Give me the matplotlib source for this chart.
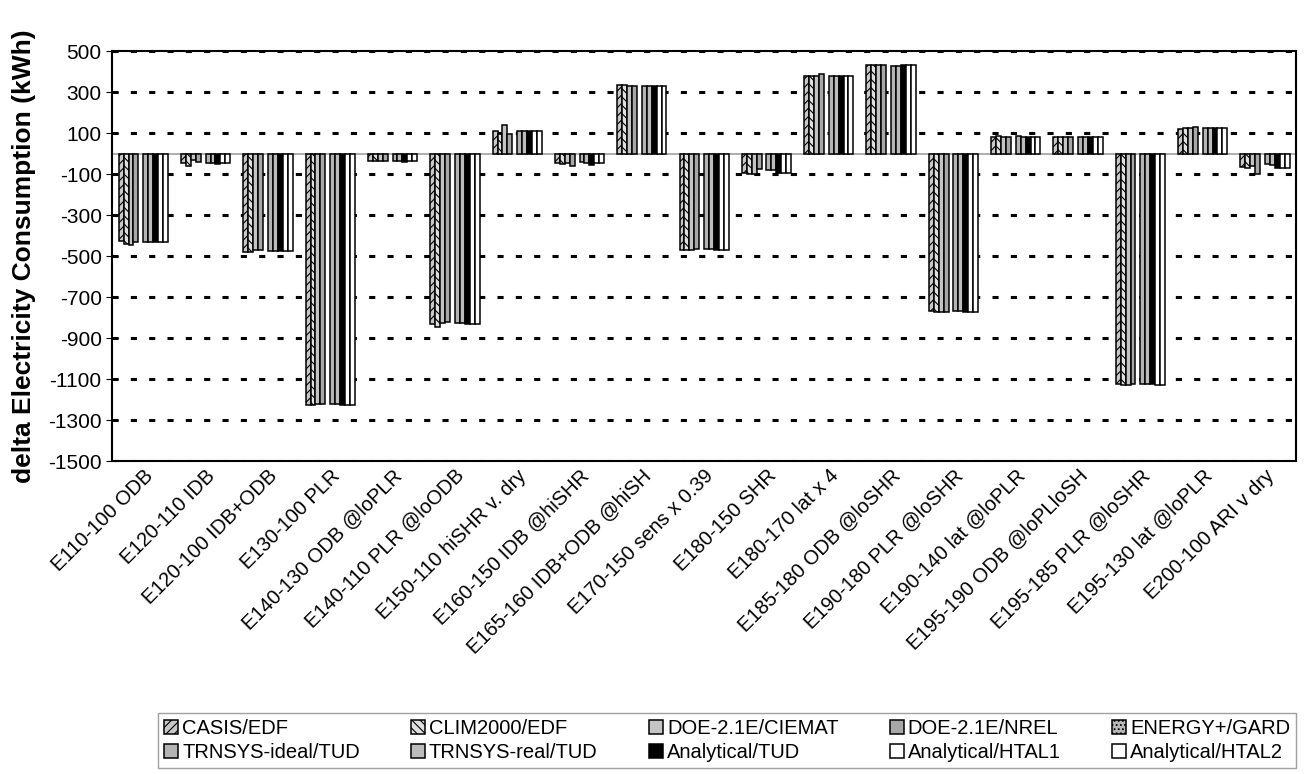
import matplotlib
matplotlib.use("Agg")
import matplotlib.pyplot as plt
import numpy as np

plt.rcParams['font.family'] = ['Liberation Sans', 'DejaVu Sans']
plt.rcParams['hatch.linewidth'] = 0.8
plt.rcParams['axes.unicode_minus'] = False

# Test case comparisons
cases = ["E110-100 ODB", "E120-110 IDB", "E120-100 IDB+ODB", "E130-100 PLR",
         "E140-130 ODB @loPLR", "E140-110 PLR @loODB", "E150-110 hiSHR v. dry",
         "E160-150 IDB @hiSHR", "E165-160 IDB+ODB @hiSH", "E170-150 sens x 0.39",
         "E180-150 SHR", "E180-170 lat x 4", "E185-180 ODB @loSHR",
         "E190-180 PLR @loSHR", "E190-140 lat @loPLR", "E195-190 ODB @loPLloSH",
         "E195-185 PLR @loSHR", "E195-130 lat @loPLR", "E200-100 ARI v dry"]

# delta electricity consumption (kWh) per program
casis = [-425, -45, -480, -1225, -38, -830, 110, -45, 335, -470, -95, 378, 432, -765, 82, 80, -1125, 120, -65]
clim2000 = [-440, -60, -480, -1225, -38, -845, 98, -50, 333, -470, -100, 378, 432, -770, 85, 80, -1130, 123, -70]
doe_ciemat = [-445, -30, -470, -1220, -38, -825, 142, -45, 330, -468, -100, 378, 430, -770, 82, 80, -1128, 125, -62]
doe_nrel = [-430, -40, -470, -1220, -38, -820, 98, -58, 330, -465, -75, 390, 430, -770, 82, 80, -1125, 128, -97]
energyplus = [np.nan] * 19
trnsys_ideal = [-430, -45, -475, -1220, -38, -825, 112, -40, 332, -465, -80, 378, 428, -765, 85, 80, -1122, 123, -50]
trnsys_real = [-430, -45, -475, -1220, -38, -825, 112, -45, 330, -465, -80, 378, 428, -765, 82, 80, -1122, 123, -55]
analytical_tud = [-432, -50, -475, -1225, -40, -830, 112, -55, 328, -470, -95, 378, 432, -770, 82, 80, -1125, 123, -72]
htal1 = [-432, -45, -475, -1225, -38, -830, 112, -45, 330, -470, -95, 378, 432, -770, 82, 80, -1128, 123, -68]
htal2 = [-432, -45, -475, -1225, -38, -830, 112, -45, 330, -470, -95, 378, 432, -770, 82, 80, -1128, 123, -68]

names = ["CASIS/EDF", "CLIM2000/EDF", "DOE-2.1E/CIEMAT", "DOE-2.1E/NREL", "ENERGY+/GARD",
         "TRNSYS-ideal/TUD", "TRNSYS-real/TUD", "Analytical/TUD", "Analytical/HTAL1", "Analytical/HTAL2"]
series = [casis, clim2000, doe_ciemat, doe_nrel, energyplus,
          trnsys_ideal, trnsys_real, analytical_tud, htal1, htal2]
faces = ["#c8c8c8", "#e0e0e0", "#c4c4c4", "#a8a8a8", "#b8b8b8",
         "#b4b4b4", "#bcbcbc", "black", "white", "white"]
hatches = ["////", "\\\\\\\\", None, None, "....", None, None, None, None, None]

fig = plt.figure(figsize=(13.04, 7.74), dpi=100)
ax = fig.add_axes([0.086, 0.404, 0.908, 0.530])

x = np.arange(len(cases))
w = 0.079
handles = []
for i, (vals, name) in enumerate(zip(series, names)):
    pos = x + (i - 4.5) * w
    b = ax.bar(pos, vals, width=w, color=faces[i], edgecolor="black",
               linewidth=1.1, hatch=hatches[i], label=name, zorder=3)
    handles.append(b)

ax.axhline(0, color="#a0a0a0", lw=1.2, zorder=2)
ax.set_xlim(-0.5, len(cases) - 0.5)
ax.set_ylim(-1500, 500)
ax.set_yticks(np.arange(-1500, 501, 200))
ax.yaxis.grid(True, color="black", linestyle=(0, (2, 4)), linewidth=2.2, zorder=1)
ax.tick_params(axis="y", labelsize=15, direction="inout", length=8)
ax.tick_params(axis="x", length=0, labelsize=14.5)
ax.set_xticks(x)
ax.set_xticklabels(cases, rotation=45, ha="right", rotation_mode="anchor")
for s in ax.spines.values():
    s.set_linewidth(1.5)

ax.set_ylabel("delta Electricity Consumption (kWh)", fontsize=19, fontweight="bold", labelpad=9)

order = [0, 5, 1, 6, 2, 7, 3, 8, 4, 9]
leg = fig.legend([handles[k] for k in order], [names[k] for k in order],
                 loc="lower left", bbox_to_anchor=(0.118, 0.002, 0.879, 0.078),
                 mode="expand", ncol=5, fontsize=14.5, frameon=True, fancybox=False,
                 edgecolor="#888888", handlelength=0.7, handleheight=0.7,
                 handletextpad=0.2, columnspacing=0.4, borderaxespad=0.2,
                 labelspacing=0.25, borderpad=0.3)

fig.savefig("out.png", dpi=100)
